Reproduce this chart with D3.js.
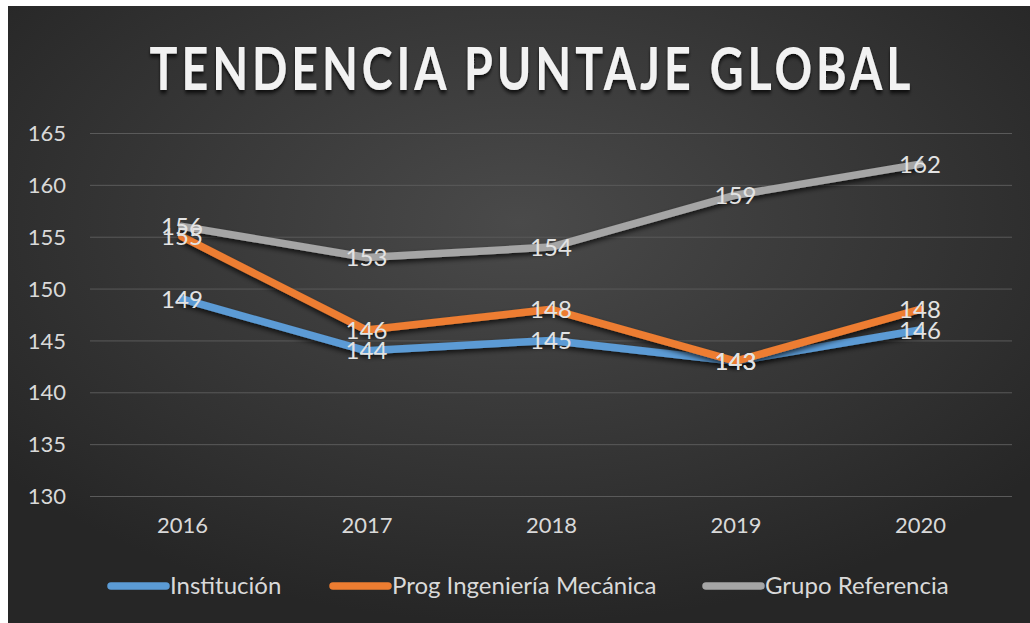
<!DOCTYPE html>
<html><head><meta charset="utf-8">
<script src="https://cdn.jsdelivr.net/npm/d3@7"></script>
<style>html,body{margin:0;padding:0;background:#fff;}svg{display:block;}</style>
</head><body>
<svg id="chart" width="1030" height="623"></svg>
<script>
const years = ["2016","2017","2018","2019","2020"];
const institucion = [149,144,145,143,146];
const programa = [155,146,148,143,148];
const referencia = [156,153,154,159,162];
const seriesNames = ["Institución","Prog Ingeniería Mecánica","Grupo Referencia"];
const seriesColors = ["#5b9bd5","#ed7d31","#a5a5a5"];
const yTicks = [130,135,140,145,150,155,160,165];
const title = "TENDENCIA PUNTAJE GLOBAL";

const series = [institucion, programa, referencia];
const svg = d3.select("#chart");
const defs = svg.append("defs");
const rg = defs.append("radialGradient").attr("id","bg").attr("cx","50%").attr("cy","35%").attr("r","65%");
rg.append("stop").attr("offset","0%").attr("stop-color","#4a4a4a");
rg.append("stop").attr("offset","100%").attr("stop-color","#262626");
const f = defs.append("filter").attr("id","sh").attr("x","-10%").attr("y","-20%").attr("width","120%").attr("height","160%");
f.append("feDropShadow").attr("dx",0).attr("dy",3).attr("stdDeviation",2.5).attr("flood-color","#000").attr("flood-opacity",0.7);
const ft = defs.append("filter").attr("id","tsh").attr("x","-5%").attr("y","-20%").attr("width","110%").attr("height","160%");
ft.append("feDropShadow").attr("dx",0).attr("dy",3).attr("stdDeviation",2).attr("flood-color","#000").attr("flood-opacity",0.8);

svg.append("rect").attr("x",8).attr("y",6).attr("width",1022).attr("height",617).attr("fill","url(#bg)");

const tg = svg.append("g");
const tt = tg.append("text").attr("x",0).attr("y",0).attr("text-anchor","middle")
  .attr("font-family","Lato").attr("font-weight","bold").attr("font-size",60)
  .attr("letter-spacing",5).attr("fill","#f2f2f2")
  .attr("filter","url(#tsh)").text(title);
const natW = tt.node().getComputedTextLength();
const sx = 765 / natW;
tg.attr("transform",`translate(532,90) scale(${sx},1)`);

const x = d3.scalePoint().domain(years).range([182,920]);
const y = d3.scaleLinear().domain([130,165]).range([496,133]);

svg.append("g").selectAll("line").data(yTicks).join("line")
  .attr("x1",90).attr("x2",1012).attr("y1",d=>y(d)+0.5).attr("y2",d=>y(d)+0.5)
  .attr("stroke","#5a5a5a").attr("stroke-width",1);

const yAxis = svg.append("g").attr("transform","translate(66,0)")
  .call(d3.axisLeft(y).tickValues(yTicks).tickSize(0).tickPadding(0));
yAxis.select(".domain").remove();
yAxis.selectAll("text").attr("font-family","Lato").attr("font-size",22).attr("fill","#d9d9d9").attr("dy","0.35em");

const xAxis = svg.append("g").attr("transform","translate(0,517)")
  .call(d3.axisBottom(x).tickSize(0).tickPadding(0));
xAxis.select(".domain").remove();
xAxis.selectAll("text").attr("font-family","Lato").attr("font-size",22).attr("fill","#d9d9d9").attr("dy","0.71em");

const line = d3.line().x((d,i)=>x(years[i])).y(d=>y(d));
series.forEach((s,k)=>{
  svg.append("path").datum(s).attr("d",line).attr("fill","none")
    .attr("stroke",seriesColors[k]).attr("stroke-width",7.5)
    .attr("stroke-linejoin","round").attr("stroke-linecap","round").attr("filter","url(#sh)");
});
series.forEach((s,k)=>{
  svg.append("g").selectAll("text").data(s).join("text")
    .attr("x",(d,i)=>x(years[i])).attr("y",d=>y(d)).attr("dy","0.36em")
    .attr("text-anchor","middle").attr("font-family","Lato").attr("font-size",24)
    .attr("fill","#e3e3e3").text(d=>d);
});

const legX = [108,330,703];
const lg = svg.append("g");
seriesNames.forEach((n,k)=>{
  lg.append("line").attr("x1",legX[k]+3).attr("x2",legX[k]+58).attr("y1",586).attr("y2",586)
    .attr("stroke",seriesColors[k]).attr("stroke-width",7.5).attr("stroke-linecap","round");
  lg.append("text").attr("x",legX[k]+62).attr("y",586).attr("dy","0.35em")
    .attr("font-family","Lato").attr("font-size",24).attr("fill","#d9d9d9").text(n);
});
</script>
</body></html>
